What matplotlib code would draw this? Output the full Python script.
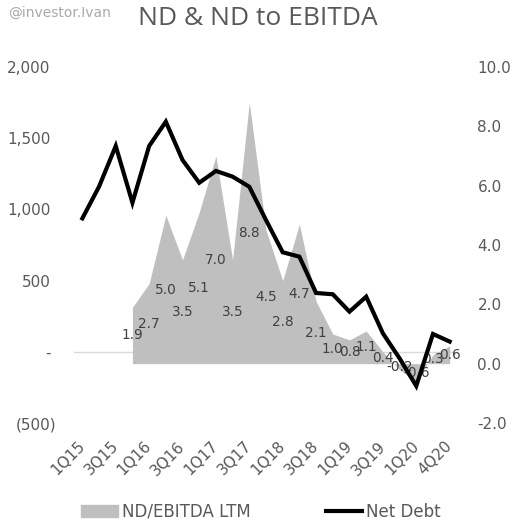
import matplotlib
matplotlib.use("Agg")
import matplotlib.pyplot as plt
from matplotlib.lines import Line2D
from matplotlib.patches import Patch
from matplotlib.transforms import ScaledTranslation

#chart data
quarters = ['1Q15', '2Q15', '3Q15', '4Q15', '1Q16', '2Q16', '3Q16', '4Q16',
            '1Q17', '2Q17', '3Q17', '4Q17', '1Q18', '2Q18', '3Q18', '4Q18',
            '1Q19', '2Q19', '3Q19', '4Q19', '1Q20', '3Q20', '4Q20']
net_debt = [937, 1160, 1445, 1047, 1445, 1616, 1347, 1187, 1270, 1230, 1159, 925,
            699, 668, 413, 404, 282, 387, 130, -46, -240, 125, 72]
#ND/EBITDA LTM starts at 4Q15
ratio_start = 3
nd_ebitda = [1.9, 2.7, 5.0, 3.5, 5.1, 7.0, 3.5, 8.8, 4.5, 2.8, 4.7, 2.1,
             1.0, 0.8, 1.1, 0.4, -0.2, -0.6, 0.3, 0.6]
left_ticks = [-500, 0, 500, 1000, 1500, 2000]
left_labels = ['(500)', '-', '500', '1,000', '1,500', '2,000']
right_ticks = [-2, 0, 2, 4, 6, 8, 10]

text_color = '#595959'
area_color = '#bfbfbf'
plt.rcParams['font.family'] = ['DejaVu Sans']

fig = plt.figure(figsize=(5.23, 5.23), dpi=100)
W = 523.0
ax2 = fig.add_axes([74 / W, 1 - 423 / W, 384 / W, 356 / W])
ax = fig.add_axes(ax2.get_position(), sharex=ax2)
ax.patch.set_visible(False)

x = list(range(len(quarters)))
xr = x[ratio_start:]

#area on the right axis
ax2.set_ylim(-2, 10)
ax2.axhline(0.4, color='#d9d9d9', lw=1, zorder=0)  # left axis zero line
ax2.fill_between(xr, 0, nd_ebitda, color=area_color, lw=0, zorder=1)
for xi, v in zip(xr, nd_ebitda):
    ax2.text(xi, v / 2, f"{v:.1f}", ha='center', va='center',
             fontsize=9.8, color='#404040', zorder=2)

#net debt line on the left axis
ax.plot(x, net_debt, color='black', lw=3, solid_joinstyle='miter', zorder=3)
ax.set_ylim(-500, 2000)
ax.set_xlim(-0.5, len(quarters) - 0.5)

ax.set_xticks(x[::2])
ax.set_xticklabels(quarters[::2], rotation=45, ha='right', va='center',
                   rotation_mode='anchor', fontsize=11, color=text_color)
ax.tick_params(axis='x', length=0, pad=15)
ax2.tick_params(axis='x', labelbottom=False, length=0)

ax.yaxis.tick_left()
ax.set_yticks(left_ticks)
ax.set_yticklabels(left_labels, fontsize=11, color=text_color)
ax.tick_params(axis='y', length=0, pad=12.5)

ax2.yaxis.tick_right()
ax2.set_yticks(right_ticks)
ax2.set_yticklabels([f"{t:.1f}" for t in right_ticks], fontsize=11, color=text_color)
ax2.tick_params(axis='y', length=0, pad=14)

for a in (ax, ax2):
    for s in a.spines.values():
        s.set_visible(False)

#accounting format: positive labels leave room for the ")"
for lab in ax.get_yticklabels():
    if not lab.get_text().startswith('('):
        lab.set_transform(lab.get_transform() + ScaledTranslation(-6 / 100, 0, fig.dpi_scale_trans))

fig.text(8 / W, 1 - 13 / W, '@investor.Ivan', fontsize=10, color='#aaaaaa',
         va='center', ha='left')
fig.text(258 / W, 1 - 25 / W, 'ND & ND to EBITDA', fontsize=19, color=text_color,
         ha='center', va='baseline', family='Open Sans')

handles = [Patch(color=area_color, label='ND/EBITDA LTM'),
           Line2D([], [], color='black', lw=3, label='Net Debt')]
fig.legend(handles=handles, loc='center left', bbox_to_anchor=(81 / W, 1 - 512 / W),
           ncol=2, frameon=False, fontsize=12, borderpad=0, borderaxespad=0,
           handlelength=2.2, handletextpad=0.25, columnspacing=4.5,
           labelcolor=text_color)

fig.savefig('out.png', dpi=100)
